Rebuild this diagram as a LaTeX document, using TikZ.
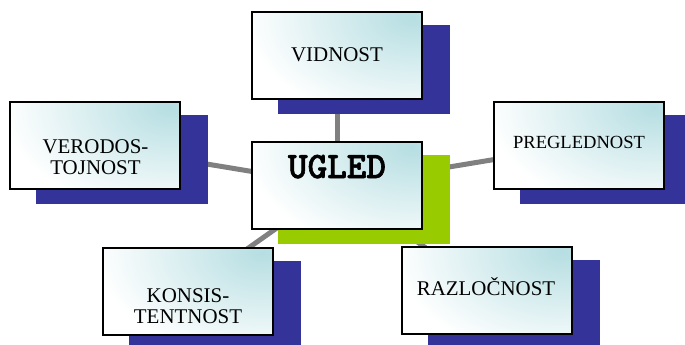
\documentclass[tikz,border=0pt]{standalone}
\usepackage{fontspec}
\setmainfont{Liberation Serif}
\newfontfamily\ugledfont[FakeBold=1.6]{lmmonolt10-bold.otf}
\definecolor{boxteal}{RGB}{182,222,226}
\definecolor{navyshadow}{RGB}{51,51,153}
\definecolor{greenshadow}{RGB}{153,204,0}
\definecolor{linkgray}{RGB}{128,128,128}
\pgfdeclarelayer{bg}
\pgfdeclarelayer{shadowlayer}
\pgfsetlayers{bg,shadowlayer,main}
\begin{document}
\begin{tikzpicture}[x=0.75pt,y=-0.75pt,
  boxnode/.style={draw=black,line width=1.5pt,rectangle,inner sep=0pt,fill=white,
    path picture={\shade[shading=radial,inner color=boxteal,outer color=white]
      ([shift={(-10,5)}]path picture bounding box.north east) ellipse [x radius=125pt,y radius=80pt];},
    minimum width=127.5pt,minimum height=65.25pt},
  boxtext/.style={anchor=base,align=center,inner sep=0pt,font=\fontsize{15.7}{15.75}\selectfont},
  link/.style={draw=linkgray,line width=3.75pt}]
\useasboundingbox (0,0) rectangle (685,344);
\clip (0,0) rectangle (685,344);
% boxes
\node[boxnode] (vid) at (337,55.5) {};
\node[boxnode] (ugl) at (337,185.5) {};
\node[boxnode] (ver) at (94.5,145.5) {};
\node[boxnode] (pre) at (579,145.5) {};
\node[boxnode] (kon) at (187.5,291) {};
\node[boxnode] (raz) at (486.5,290.5) {};
% texts
\node[boxtext] (tvid) at (337,61) {VIDNOST};
\node[anchor=base,inner sep=0pt,font=\ugledfont\fontsize{28}{28}\selectfont] (tugl) at (337,178) {UGLED};
\node[boxtext] (tver) at (95.5,174) {VERODOS-\\TOJNOST};
\node[boxtext,font=\fontsize{13.9}{14}\selectfont] (tpre) at (579,148.3) {PREGLEDNOST};
\node[boxtext] (tkon) at (188,323) {KONSIS-\\TENTNOST};
\node[boxtext] (traz) at (486,295) {RAZLOČNOST};
% shadows
\begin{pgfonlayer}{shadowlayer}
\foreach \b in {vid,ver,pre,kon,raz}{
  \fill[navyshadow] ([shift={(27,14)}]\b.north west) rectangle ([shift={(27,14)}]\b.south east);
}
\fill[greenshadow] ([shift={(27,14)}]ugl.north west) rectangle ([shift={(27,14)}]ugl.south east);
\end{pgfonlayer}
% connectors
\begin{pgfonlayer}{bg}
\foreach \b in {vid,ver,pre,kon,raz}{
  \draw[link] (ugl.center) -- (\b.center);
}
\end{pgfonlayer}
\end{tikzpicture}
\end{document}
